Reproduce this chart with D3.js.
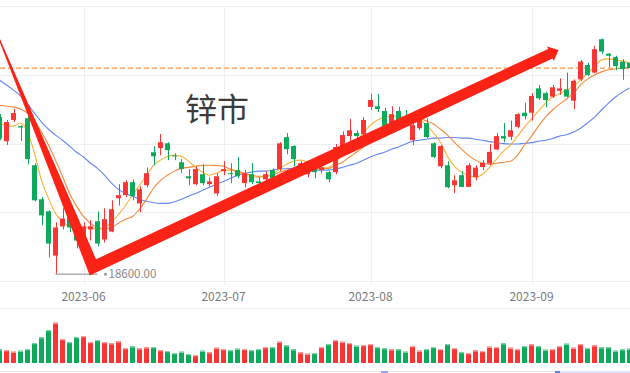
<!DOCTYPE html>
<html>
<head>
<meta charset="utf-8">
<script src="https://cdn.jsdelivr.net/npm/d3@7"></script>
<style>
  body { margin: 0; background: #fff; }
  svg { display: block; }
</style>
</head>
<body>
<div id="chart"></div>
<script>
// SHFE zinc daily k-line, 2023-05 .. 2023-09 (91 trading days)
const opens = [20890,20535,20845,20755,20870,20185,19690,19515,18870,19295,
  19440,19400,19005,19250,19370,19105,19220,19705,19750,19940,
  19630,19895,20375,20435,20505,20330,20230,20025,19910,20055,
  19910,19775,20100,20070,20115,19925,20055,19950,19980,20115,
  20130,20595,20465,20130,20055,20130,20115,20085,20085,20465,
  20610,20655,20640,21035,21045,20975,20740,20975,20885,20550,
  20725,20800,20505,20170,20185,19895,20040,19870,20015,20160,
  20210,20415,20610,20600,20745,20950,20950,21305,21235,21185,
  21270,21290,21125,21435,21645,21535,22020,21810,21760,21695,
  21680];
const closes = [20575,20815,20945,20735,20275,19675,19455,19045,19280,19410,
  19280,19090,19295,19295,19045,19400,19545,19750,19940,19735,
  19835,20070,20315,20520,20405,20315,20130,19995,20130,19925,
  19950,20025,20130,20055,20025,20070,19940,19925,20055,19995,
  20505,20420,20275,20215,20140,20085,20155,19980,20450,20625,
  20695,20610,20845,21135,21005,20755,20930,20830,20845,20770,
  20860,20595,20305,20465,19865,19965,19870,20185,20150,20220,
  20380,20610,20575,20695,20930,20900,21195,21160,21135,21320,
  21305,21185,21415,21695,21500,21875,21840,21780,21630,21585,
  21600];
const highs = [20930,20845,21005,20770,20930,20215,19720,19530,19355,19560,
  19530,19425,19355,19385,19515,19560,19675,19910,19965,19980,
  19880,20155,20465,20640,20520,20360,20275,20130,20170,20200,
  20010,20070,20245,20215,20305,20115,20215,20010,20100,20140,
  20520,20655,20480,20245,20215,20215,20260,20100,20495,20680,
  20860,20695,20885,21225,21225,21020,21045,21035,20990,20800,
  20885,20870,20520,20480,20245,20040,20100,20215,20185,20260,
  20495,20655,20800,20835,20945,21095,21235,21355,21255,21355,
  21450,21535,21435,21720,21675,21925,22030,21820,21780,21730,
  21895];
const lows = [20550,20480,20815,20540,20200,19660,19310,18845,18600,19250,
  19210,18975,18960,19090,19005,19060,19210,19600,19720,19675,
  19500,19865,20185,20330,20260,20260,20070,19895,19895,19895,
  19880,19735,20040,19925,19995,19865,19910,19850,19940,19895,
  20100,20345,20170,20055,20010,19995,20070,19940,20055,20375,
  20480,20480,20625,20990,20960,20740,20710,20785,20815,20480,
  20695,20580,20290,20140,19850,19780,19865,19865,19965,20115,
  20185,20405,20520,20550,20725,20855,20835,21135,21030,21165,
  21210,21175,21000,21410,21485,21525,21805,21610,21570,21430,
  21570];
const volumes = [68500,65000,56500,61500,70000,100000,128500,165000,201500,120000,
  105000,130000,135000,105000,115000,105000,98500,108500,75000,83500,
  73500,78500,80000,65000,60000,50000,56500,45000,40000,61500,
  53500,76500,70000,65000,71500,70000,65000,70000,80000,80000,
  106500,88500,68500,53500,46500,50000,80000,95000,115000,106500,
  100000,86500,90000,95000,80000,75000,68500,68500,56500,85000,
  61500,70000,80000,70000,95000,75000,55000,50000,63500,60000,
  81500,80000,98500,76500,70000,85000,93500,85000,66500,70000,
  85000,96500,76500,95000,75000,88500,78500,80000,61500,68500,
  71500];
const ma5 = [20815,20755,20755,20800,20670,20360,19965,19705,19485,19370,
  19295,19280,19280,19280,19250,19280,19355,19470,19600,19750,
  19895,20040,20185,20260,20315,20330,20315,20245,20155,20085,
  20040,20070,20115,20115,20085,20040,20025,20010,20025,20055,
  20130,20200,20245,20260,20230,20155,20140,20155,20230,20330,
  20405,20535,20655,20770,20845,20885,20900,20900,20885,20860,
  20845,20770,20655,20520,20315,20170,20085,20040,20010,20055,
  20155,20275,20390,20480,20610,20740,20860,20975,21090,21180,
  21225,21280,21340,21425,21530,21615,21720,21735,21720,21705,
  21675];
const ma10 = [21060,21045,21035,21005,20945,20830,20670,20480,20260,20025,
  19775,19590,19440,19340,19280,19265,19280,19340,19400,19440,
  19545,19690,19850,19965,20040,20100,20140,20155,20170,20185,
  20185,20180,20170,20130,20100,20070,20040,20025,20025,20040,
  20085,20115,20130,20140,20140,20130,20140,20140,20185,20230,
  20305,20375,20450,20535,20610,20680,20740,20800,20845,20860,
  20860,20830,20785,20710,20625,20520,20420,20330,20260,20215,
  20200,20215,20230,20245,20330,20480,20610,20755,20885,20990,
  21075,21150,21235,21355,21440,21500,21545,21575,21590,21600,
  21615];
const ma20 = [21425,21355,21280,21195,21075,20945,20815,20710,20625,20550,
  20465,20375,20305,20215,20140,20040,19925,19835,19775,19735,
  19690,19660,19640,19630,19630,19655,19690,19735,19775,19820,
  19865,19910,19950,19995,20040,20070,20085,20100,20100,20115,
  20130,20135,20140,20135,20130,20115,20115,20115,20130,20155,
  20185,20215,20260,20305,20345,20375,20420,20450,20495,20535,
  20550,20565,20580,20580,20590,20590,20580,20580,20565,20550,
  20530,20515,20500,20495,20495,20505,20515,20535,20550,20575,
  20610,20630,20670,20725,20800,20885,20990,21090,21180,21250,
  21310];
// first trading day of each month (candle index) and its label
const monthIndex = [12, 32, 53, 76];
const monthLabels = ['2023-06', '2023-07', '2023-08', '2023-09'];
const priceTicks = [18500, 19500, 20500, 21500, 22500];
// hand-drawn trend arrow: [candle index, price]
const arrowPoints = [[-0.36, 22105], [13.36, 18700], [78.7, 21810]];
const title = '锌市';

const W = 630, H = 373;
const RED = '#fb3434', GREEN = '#0eaa5c';

const svg = d3.select('#chart').append('svg').attr('width', W).attr('height', H);

const x = d3.scaleLinear().domain([0, opens.length - 1]).range([-0.5, 629.5]);
const y = d3.scaleLinear().domain([18500, 22500]).range([281, 6.3]);
const yVol = d3.scaleLinear().domain([0, 275000]).range([363, 308]);
const bodyW = 5;

// grid
const grid = svg.append('g').attr('class', 'grid');
grid.selectAll('line.h').data(priceTicks).enter().append('line')
  .attr('x1', 0).attr('x2', W)
  .attr('y1', (d) => Math.round(y(d)) + 0.5).attr('y2', (d) => Math.round(y(d)) + 0.5)
  .attr('stroke', '#efefef');
grid.selectAll('line.v').data(monthIndex).enter().append('line')
  .attr('x1', (d) => Math.round(x(d)) + 0.5).attr('x2', (d) => Math.round(x(d)) + 0.5)
  .attr('y1', y(22500)).attr('y2', y(18500) + 4)
  .attr('stroke', '#efefef');

// volume panel frame
svg.append('line').attr('x1', 0).attr('x2', W).attr('y1', 308.5).attr('y2', 308.5).attr('stroke', '#f2f2f2');
svg.append('line').attr('x1', 0).attr('x2', W).attr('y1', 371.5).attr('y2', 371.5).attr('stroke', '#eaeaea');
// slider edge peeking at the bottom
svg.append('rect').attr('x', 555).attr('y', 371).attr('width', 75).attr('height', 2).attr('fill', '#dde5fb');
svg.append('rect').attr('x', 555).attr('y', 371).attr('width', 5).attr('height', 2).attr('fill', '#5b7ff0');
svg.append('rect').attr('x', 381).attr('y', 371).attr('width', 7).attr('height', 2).attr('fill', '#8fa8f5');

// x axis labels
svg.selectAll('text.month').data(monthIndex).enter().append('text')
  .attr('class', 'month')
  .attr('x', (d) => x(d))
  .attr('y', 301)
  .attr('text-anchor', 'middle')
  .style('font-family', '"Noto Sans CJK SC", "Noto Sans", sans-serif')
  .style('font-size', '12px')
  .style('fill', '#7a7a7a')
  .text((d, i) => monthLabels[i]);

// title
svg.append('text')
  .attr('x', 185)
  .attr('y', 121)
  .style('font-family', '"Noto Sans CJK SC", sans-serif')
  .style('font-size', '32px')
  .style('fill', '#3c3c3c')
  .text(title);

// reference line at last price
const lastPrice = closes[closes.length - 1];
svg.append('line')
  .attr('x1', 0).attr('x2', W)
  .attr('y1', y(lastPrice)).attr('y2', y(lastPrice))
  .attr('stroke', '#f57f22')
  .attr('stroke-width', 1)
  .attr('stroke-dasharray', '5,3');

// volume bars
const idx = d3.range(opens.length);
const up = (i) => closes[i] >= opens[i];
const vol = svg.append('g').attr('class', 'volume');
vol.selectAll('rect.bar').data(idx).enter().append('rect')
  .attr('x', (i) => x(i) - bodyW / 2)
  .attr('y', (i) => yVol(volumes[i]))
  .attr('width', bodyW)
  .attr('height', (i) => yVol(0) - yVol(volumes[i]))
  .attr('fill', (i) => (up(i) ? RED : GREEN));
vol.selectAll('rect.cap').data(idx).enter().append('rect')
  .attr('x', (i) => x(i) - bodyW / 2)
  .attr('y', (i) => yVol(volumes[i]))
  .attr('width', bodyW)
  .attr('height', 1.3)
  .attr('fill', (i) => (up(i) ? '#ff9d9d' : '#78d3a6'));

// moving averages
const line = d3.line().x((d, i) => x(i)).y((d) => y(d)).curve(d3.curveMonotoneX);
[[ma20, '#6585f2'], [ma10, '#f4873a'], [ma5, '#f9b233']].forEach(([s, c]) => {
  svg.append('path').attr('d', line(s)).attr('fill', 'none').attr('stroke', c).attr('stroke-width', 1.1);
});

// candles
const candles = svg.append('g').attr('class', 'candles');
candles.selectAll('line').data(idx).enter().append('line')
  .attr('x1', (i) => Math.round(x(i)) + 0.5).attr('x2', (i) => Math.round(x(i)) + 0.5)
  .attr('y1', (i) => y(highs[i])).attr('y2', (i) => y(lows[i]))
  .attr('stroke', (i) => (up(i) ? RED : GREEN))
  .attr('stroke-width', 1);
candles.selectAll('rect').data(idx).enter().append('rect')
  .attr('x', (i) => x(i) - bodyW / 2)
  .attr('y', (i) => y(Math.max(opens[i], closes[i])))
  .attr('width', bodyW)
  .attr('height', (i) => Math.max(1, Math.abs(y(opens[i]) - y(closes[i]))))
  .attr('fill', (i) => (up(i) ? RED : GREEN));

// lowest low marker
const lowIdx = d3.minIndex(lows);
const lx = x(lowIdx), ly = y(lows[lowIdx]);
svg.append('line').attr('x1', lx).attr('x2', lx + 42).attr('y1', ly).attr('y2', ly)
  .attr('stroke', '#b0b0b0').attr('stroke-width', 1.5);
svg.append('circle').attr('cx', lx + 50).attr('cy', ly).attr('r', 1.5).attr('fill', '#999');
svg.append('text')
  .attr('x', lx + 53)
  .attr('y', ly)
  .attr('dy', '0.36em')
  .style('font-family', '"Noto Sans CJK SC", "Noto Sans", sans-serif')
  .style('font-size', '11.5px')
  .style('fill', '#888')
  .text(lows[lowIdx].toFixed(2));

// trend arrow (tapered first stroke, mitred corner, arrow head)
const P = arrowPoints.map(([i, p]) => [x(i), y(p)]);
const widths = [1, 12, 10.5];
const unit = (a, b) => { const dx = b[0] - a[0], dy = b[1] - a[1], l = Math.hypot(dx, dy); return [dx / l, dy / l]; };
const d1 = unit(P[0], P[1]), d2 = unit(P[1], P[2]);
const n1 = [-d1[1], d1[0]], n2 = [-d2[1], d2[0]];
const off = (p, n, w, s) => [p[0] + s * n[0] * w / 2, p[1] + s * n[1] * w / 2];
const intersect = (a1, a2, b1, b2) => {
  const r = [a2[0] - a1[0], a2[1] - a1[1]], q = [b2[0] - b1[0], b2[1] - b1[1]];
  const den = r[0] * q[1] - r[1] * q[0];
  const t = ((b1[0] - a1[0]) * q[1] - (b1[1] - a1[1]) * q[0]) / den;
  return [a1[0] + t * r[0], a1[1] + t * r[1]];
};
const side = (s) => {
  const a0 = off(P[0], n1, widths[0], s), a1 = off(P[1], n1, widths[1], s);
  const b1 = off(P[1], n2, widths[1], s), b2 = off(P[2], n2, widths[2], s);
  return [a0, intersect(a0, a1, b1, b2), b2];
};
const L = side(1), R = side(-1);
const tip = [P[2][0] + d2[0] * 9, P[2][1] + d2[1] * 9];
const headL = off(P[2], n2, 16, 1), headR = off(P[2], n2, 16, -1);
const arrowPoly = [L[0], L[1], L[2], headL, tip, headR, R[2], R[1], R[0]];
svg.append('path')
  .attr('d', 'M' + arrowPoly.map((p) => p.join(',')).join('L') + 'Z')
  .attr('fill', '#fb2216');
</script>
</body>
</html>
